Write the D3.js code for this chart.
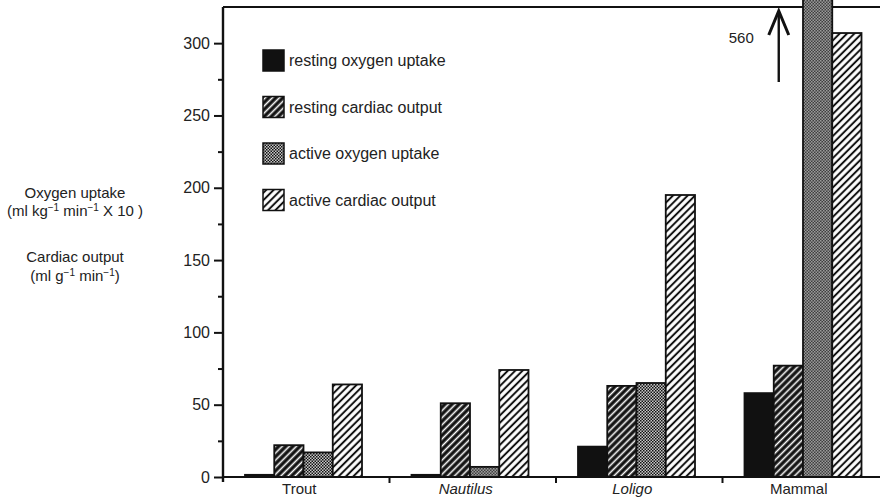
<!DOCTYPE html>
<html>
<head>
<meta charset="utf-8">
<script src="https://cdn.jsdelivr.net/npm/d3@7"></script>
<style>
html,body{margin:0;padding:0;background:#fff;}
svg{display:block;font-family:"Liberation Sans",Arial,Helvetica,sans-serif;}
</style>
</head>
<body>
<svg id="chart" width="880" height="497"></svg>
<script>
const categories = ["Trout", "Nautilus", "Loligo", "Mammal"];
const italicCats = ["Nautilus", "Loligo"];
const seriesNames = ["resting oxygen uptake", "resting cardiac output", "active oxygen uptake", "active cardiac output"];
const restingO2 = [1.5, 1.5, 21, 58];
const restingCO = [22, 51, 63, 77];
const activeO2 = [17, 7, 65, 560];
const activeCO = [64, 74, 195, 307];
const yTicks = [0, 50, 100, 150, 200, 250, 300];
const yMinorTicks = [25, 75, 125, 175, 225, 275];
const offScaleLabel = "560";

const seriesKeys = ["restingO2", "restingCO", "activeO2", "activeCO"];
const seriesValues = { restingO2, restingCO, activeO2, activeCO };
const fills = { restingO2: "#111", restingCO: "url(#pRestCO)", activeO2: "url(#pActO2)", activeCO: "url(#pActCO)" };

const svg = d3.select("#chart");
const defs = svg.append("defs");

// Patterns
const p1 = defs.append("pattern").attr("id", "pRestCO").attr("patternUnits", "userSpaceOnUse")
  .attr("width", 5).attr("height", 5).attr("patternTransform", "rotate(45)");
p1.append("rect").attr("width", 5).attr("height", 5).attr("fill", "#111");
p1.append("line").attr("x1", 2.5).attr("y1", 0).attr("x2", 2.5).attr("y2", 5).attr("stroke", "#fff").attr("stroke-width", 1.6);

const p3 = defs.append("pattern").attr("id", "pActCO").attr("patternUnits", "userSpaceOnUse")
  .attr("width", 5.2).attr("height", 5.2).attr("patternTransform", "rotate(45)");
p3.append("rect").attr("width", 5.2).attr("height", 5.2).attr("fill", "#fff");
p3.append("line").attr("x1", 2.6).attr("y1", 0).attr("x2", 2.6).attr("y2", 5.2).attr("stroke", "#111").attr("stroke-width", 2);

const p2 = defs.append("pattern").attr("id", "pActO2").attr("patternUnits", "userSpaceOnUse")
  .attr("width", 3).attr("height", 3);
p2.append("rect").attr("width", 3).attr("height", 3).attr("fill", "#c8c8c8");
p2.append("rect").attr("x", 0).attr("y", 0).attr("width", 1.5).attr("height", 1.5).attr("fill", "#111");
p2.append("rect").attr("x", 1.5).attr("y", 1.5).attr("width", 1.5).attr("height", 1.5).attr("fill", "#111");

// Scales
const y = d3.scaleLinear().domain([0, 325]).range([477, 7]);
const x0 = d3.scaleBand().domain(categories).range([223, 889]).paddingInner(0).paddingOuter(0);
const x1 = d3.scaleBand().domain(seriesKeys).range([22, 139]).padding(0);

// Frame: top line
svg.append("line").attr("x1", 223).attr("x2", 880).attr("y1", y(325)).attr("y2", y(325))
  .attr("stroke", "#111").attr("stroke-width", 2);

// Bars
const groups = svg.append("g").selectAll("g").data(categories).join("g")
  .attr("transform", d => `translate(${x0(d)},0)`);
groups.selectAll("rect").data((d, i) => seriesKeys.map(k => ({ key: k, value: seriesValues[k][i] })))
  .join("rect")
  .attr("x", d => x1(d.key))
  .attr("width", x1.bandwidth())
  .attr("y", d => Math.max(y(d.value), -5))
  .attr("height", d => y(0) - Math.max(y(d.value), -5))
  .attr("fill", d => fills[d.key])
  .attr("stroke", "#111").attr("stroke-width", 1.8);

// Y axis
const yAxisG = svg.append("g").attr("transform", "translate(223,0)")
  .call(d3.axisLeft(y).tickValues(yTicks).tickSize(9).tickPadding(4).tickFormat(d3.format("d")));
yAxisG.select(".domain").remove();
yAxisG.selectAll(".tick line").attr("stroke", "#111").attr("stroke-width", 2);
yAxisG.selectAll(".tick text").attr("font-size", 16).attr("fill", "#222")
  .attr("font-family", "Liberation Sans, Arial, sans-serif");
const yMinorG = svg.append("g").attr("transform", "translate(223,0)")
  .call(d3.axisLeft(y).tickValues(yMinorTicks).tickSize(5).tickFormat(""));
yMinorG.select(".domain").remove();
yMinorG.selectAll(".tick line").attr("stroke", "#111").attr("stroke-width", 2);

svg.append("line").attr("x1", 223).attr("x2", 223).attr("y1", y(325)).attr("y2", y(0) + 5)
  .attr("stroke", "#111").attr("stroke-width", 2.4);

// X axis
const xAxisG = svg.append("g").attr("transform", `translate(0,${y(0)})`)
  .call(d3.axisBottom(x0).tickSize(0).tickPadding(6));
xAxisG.select(".domain").remove();
xAxisG.selectAll(".tick text")
  .attr("x", -7)
  .attr("font-size", 15).attr("fill", "#222")
  .attr("font-family", "Liberation Sans, Arial, sans-serif")
  .attr("font-style", d => italicCats.includes(d) ? "italic" : "normal");
svg.append("line").attr("x1", 223).attr("x2", 880).attr("y1", y(0)).attr("y2", y(0))
  .attr("stroke", "#111").attr("stroke-width", 2);
svg.append("g").selectAll("line").data(categories.slice(1)).join("line")
  .attr("x1", d => x0(d)).attr("x2", d => x0(d))
  .attr("y1", y(0)).attr("y2", y(0) + 6)
  .attr("stroke", "#111").attr("stroke-width", 2);

// Off-scale annotation
const arrowX = x0("Mammal") + x1("restingCO") + 5;
svg.append("line").attr("x1", arrowX).attr("x2", arrowX).attr("y1", 12).attr("y2", 82)
  .attr("stroke", "#111").attr("stroke-width", 2.4);
svg.append("path").attr("d", `M${arrowX - 10},35 L${arrowX},11 L${arrowX + 10},35`)
  .attr("fill", "none").attr("stroke", "#111").attr("stroke-width", 3);
svg.append("text").attr("x", arrowX - 25).attr("y", 43).attr("text-anchor", "end")
  .attr("font-size", 15).attr("fill", "#222").text(offScaleLabel);

// Legend
const legend = svg.append("g").attr("transform", "translate(263,50)");
const li = legend.selectAll("g").data(seriesKeys).join("g")
  .attr("transform", (d, i) => `translate(0,${i * 46.5})`);
li.append("rect").attr("width", 21).attr("height", 21)
  .attr("fill", d => fills[d]).attr("stroke", "#111").attr("stroke-width", 1.5);
li.append("text").attr("x", 26).attr("y", 16).attr("font-size", 16).attr("fill", "#222")
  .text((d, i) => seriesNames[i]);

// Y axis title
const tt = svg.append("g").attr("text-anchor", "middle").attr("font-size", 15).attr("fill", "#222");
tt.append("text").attr("x", 75).attr("y", 198).text("Oxygen uptake");
const t2 = tt.append("text").attr("x", 75).attr("y", 216);
t2.append("tspan").text("(ml kg");
t2.append("tspan").attr("font-size", 10).attr("dy", -5).text("−1");
t2.append("tspan").attr("dy", 5).text(" min");
t2.append("tspan").attr("font-size", 10).attr("dy", -5).text("−1");
t2.append("tspan").attr("dy", 5).text(" X 10 )");
tt.append("text").attr("x", 75).attr("y", 262).text("Cardiac output");
const t4 = tt.append("text").attr("x", 75).attr("y", 281);
t4.append("tspan").text("(ml g");
t4.append("tspan").attr("font-size", 10).attr("dy", -5).text("−1");
t4.append("tspan").attr("dy", 5).text(" min");
t4.append("tspan").attr("font-size", 10).attr("dy", -5).text("−1");
t4.append("tspan").attr("dy", 5).text(")");
</script>
</body>
</html>
